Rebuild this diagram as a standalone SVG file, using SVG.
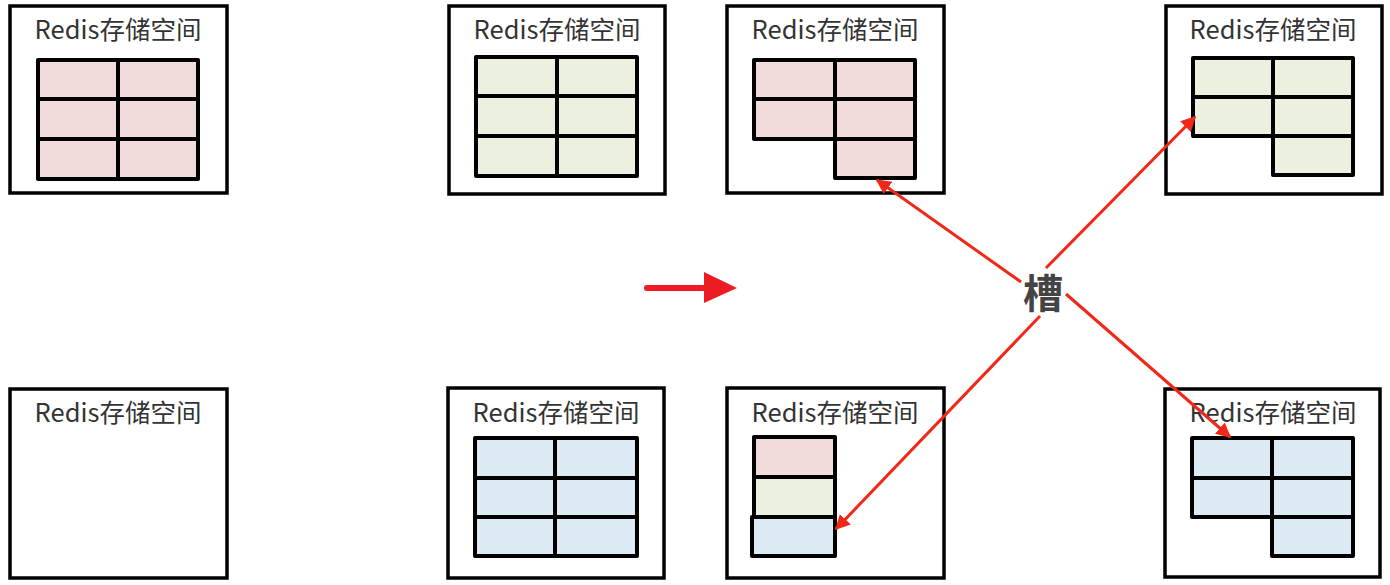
<svg xmlns="http://www.w3.org/2000/svg" width="1390" height="585" viewBox="0 0 1390 585">
<style>
.box{fill:#fff;stroke:#000;stroke-width:3.5}
.t{font-family:"Noto Sans CJK SC","Noto Sans",sans-serif;font-size:25.5px;fill:#333;text-anchor:middle}
.c{stroke:#000;stroke-width:4;stroke-linejoin:round}
.r{fill:#f2dcdb}
.g{fill:#ebf1de}
.b{fill:#dbeaf3}
.ln{stroke:#f02818;stroke-width:3;fill:none}
</style>
<defs>
<marker id="ah" viewBox="0 0 10 10" refX="9" refY="5" markerWidth="5" markerHeight="5" orient="auto" markerUnits="strokeWidth">
<path d="M0,0 L10,5 L0,10 Z" fill="#f02818"/>
</marker>
</defs>
<rect width="1390" height="585" fill="#fff"/>

<g id="node1">
<rect class="box" x="10" y="6" width="217" height="187"/>
<text class="t" x="118" y="39">Redis存储空间</text>
<g class="c r">
<rect x="38" y="60" width="80" height="39"/><rect x="118" y="60" width="80" height="39"/>
<rect x="38" y="99" width="80" height="40"/><rect x="118" y="99" width="80" height="40"/>
<rect x="38" y="139" width="80" height="40"/><rect x="118" y="139" width="80" height="40"/>
</g>
</g>

<g id="node2">
<rect class="box" x="449" y="6" width="216" height="188"/>
<text class="t" x="557" y="39">Redis存储空间</text>
<g class="c g">
<rect x="476" y="57" width="81" height="39"/><rect x="557" y="57" width="80" height="39"/>
<rect x="476" y="96" width="81" height="40"/><rect x="557" y="96" width="80" height="40"/>
<rect x="476" y="136" width="81" height="40"/><rect x="557" y="136" width="80" height="40"/>
</g>
</g>

<g id="node3">
<rect class="box" x="727" y="6" width="217" height="187"/>
<text class="t" x="835" y="39">Redis存储空间</text>
<g class="c r">
<rect x="754" y="60" width="81" height="39"/><rect x="835" y="60" width="80" height="39"/>
<rect x="754" y="99" width="81" height="40"/><rect x="835" y="99" width="80" height="40"/>
<rect x="835" y="139" width="80" height="39"/>
</g>
</g>

<g id="node4">
<rect class="box" x="1166" y="6" width="216" height="188"/>
<text class="t" x="1273" y="39">Redis存储空间</text>
<g class="c g">
<rect x="1193" y="58" width="80" height="39"/><rect x="1273" y="58" width="80" height="39"/>
<rect x="1193" y="97" width="80" height="39"/><rect x="1273" y="97" width="80" height="39"/>
<rect x="1273" y="136" width="80" height="39"/>
</g>
</g>

<g id="node5">
<rect class="box" x="10" y="389" width="217" height="189"/>
<text class="t" x="118" y="422">Redis存储空间</text>
</g>

<g id="node6">
<rect class="box" x="448" y="388" width="216" height="190"/>
<text class="t" x="556" y="422">Redis存储空间</text>
<g class="c b">
<rect x="475" y="438" width="80" height="40"/><rect x="555" y="438" width="82" height="40"/>
<rect x="475" y="478" width="80" height="39"/><rect x="555" y="478" width="82" height="39"/>
<rect x="475" y="517" width="80" height="39"/><rect x="555" y="517" width="82" height="39"/>
</g>
</g>

<g id="node7">
<rect class="box" x="727" y="388" width="217" height="190"/>
<text class="t" x="835" y="422">Redis存储空间</text>
<g class="c">
<rect class="r" x="754" y="437" width="81" height="40"/>
<rect class="g" x="754" y="477" width="81" height="40"/>
<rect class="b" x="752" y="517" width="83" height="39"/>
</g>
</g>

<g id="node8">
<rect class="box" x="1165" y="389" width="215" height="188"/>
<text class="t" x="1273" y="422">Redis存储空间</text>
<g class="c b">
<rect x="1192" y="438" width="80" height="40"/><rect x="1272" y="438" width="81" height="40"/>
<rect x="1192" y="478" width="80" height="39"/><rect x="1272" y="478" width="81" height="39"/>
<rect x="1272" y="517" width="81" height="39"/>
</g>
</g>

<g id="arrow">
<line x1="647" y1="288" x2="708" y2="288" stroke="#ec1c24" stroke-width="6" stroke-linecap="round"/>
<path d="M704,272 L737,288 L704,303 Z" fill="#ec1c24"/>
</g>

<g id="slot">
<text x="1043" y="308" font-family="'Noto Sans CJK SC',sans-serif" font-size="40" font-weight="bold" fill="#444" text-anchor="middle">槽</text>
</g>

<g id="connectors">
<line class="ln" x1="1021" y1="282" x2="877" y2="180" marker-end="url(#ah)"/>
<line class="ln" x1="1046" y1="268" x2="1195" y2="117" marker-end="url(#ah)"/>
<line class="ln" x1="1040" y1="316" x2="836" y2="529" marker-end="url(#ah)"/>
<line class="ln" x1="1066" y1="294" x2="1230" y2="437" marker-end="url(#ah)"/>
</g>
</svg>
